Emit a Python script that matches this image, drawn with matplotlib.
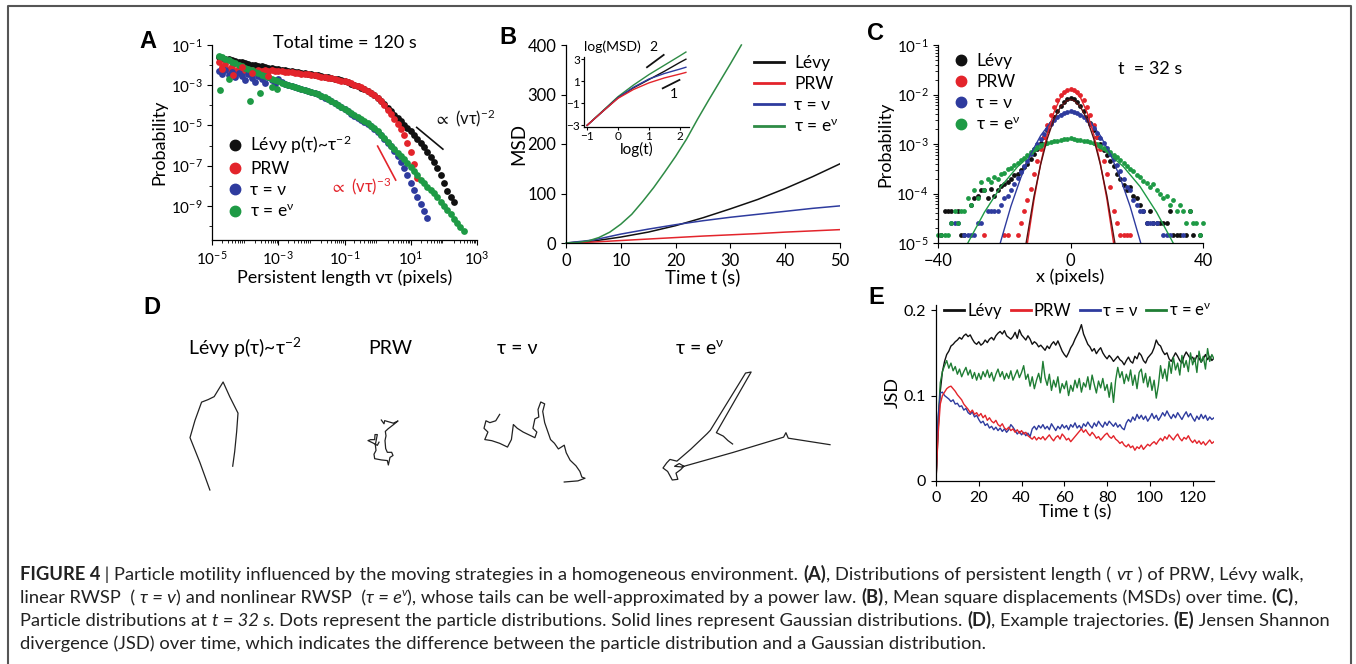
import numpy as np
import matplotlib
matplotlib.use("Agg")
import matplotlib.pyplot as plt
from matplotlib.lines import Line2D
from matplotlib.ticker import LogLocator, NullFormatter

W, H = 1356, 664

# === Panel A: persistent length distributions (log10 x, log10 y) ===
a_grid_black = np.round(np.arange(-4.8, 2.35, 0.1), 2)
a_black = [-1.60, -1.64, -1.68, -1.72, -1.76, -1.80, -1.83, -1.87, -1.91, -1.95,
           -1.98, -2.01, -2.04, -2.06, -2.09, -2.12, -2.14, -2.17, -2.20, -2.22,
           -2.25, -2.27, -2.30, -2.32, -2.35, -2.37, -2.40, -2.42, -2.45, -2.47,
           -2.50, -2.53, -2.57, -2.60, -2.64, -2.67, -2.71, -2.75, -2.80, -2.86,
           -2.92, -2.98, -3.05, -3.12, -3.21, -3.30, -3.40, -3.51, -3.62, -3.78,
           -3.95, -4.12, -4.29, -4.46, -4.63, -4.80, -4.97, -5.13, -5.30, -5.48,
           -5.68, -5.88, -6.08, -6.30, -6.55, -6.82, -7.12, -7.45, -7.85, -8.25,
           -8.55, -8.80]
a_grid_red = np.round(np.arange(-4.8, 1.25, 0.1), 2)
a_red = [-1.85, -2.10, -1.95, -2.20, -2.05, -2.30, -2.15, -2.35, -2.20, -2.40,
         -2.25, -2.35, -2.22, -2.30, -2.24, -2.28, -2.25, -2.27, -2.28, -2.30,
         -2.32, -2.34, -2.36, -2.38, -2.40, -2.42, -2.44, -2.46, -2.49, -2.51,
         -2.54, -2.57, -2.60, -2.63, -2.66, -2.70, -2.73, -2.77, -2.81, -2.86,
         -2.91, -2.97, -3.04, -3.11, -3.19, -3.27, -3.38, -3.50, -3.64, -3.80,
         -4.00, -4.21, -4.43, -4.67, -4.92, -5.19, -5.48, -5.85, -6.30, -6.90,
         -7.60]
a_grid_blue = np.round(np.arange(-4.8, 1.55, 0.1), 2)
a_blue = [-2.30, -2.45, -2.25, -2.50, -2.35, -2.60, -2.40, -2.55, -2.75, -2.45,
          -2.65, -2.85, -2.55, -2.70, -2.90, -2.60, -2.75, -2.95, -2.70, -2.85,
          -2.95, -3.00, -3.04, -3.08, -3.14, -3.19, -3.24, -3.29, -3.34, -3.40,
          -3.46, -3.54, -3.62, -3.71, -3.80, -3.90, -4.00, -4.10, -4.20, -4.30,
          -4.41, -4.51, -4.61, -4.71, -4.82, -4.92, -5.04, -5.17, -5.32, -5.49,
          -5.67, -5.85, -6.03, -6.25, -6.50, -6.80, -7.12, -7.48, -7.85, -8.22,
          -8.58, -8.92, -9.25, -9.60]
a_grid_green = np.round(np.arange(-4.8, 2.65, 0.1), 2)
a_green = [-1.53, -1.61, -1.68, -1.76, -1.84, -1.91, -1.98, -2.05, -2.12, -2.19,
           -2.26, -2.33, -2.40, -2.47, -2.54, -2.61, -2.68, -2.74, -2.80, -2.87,
           -2.92, -2.97, -3.02, -3.07, -3.12, -3.17, -3.22, -3.27, -3.32, -3.38,
           -3.44, -3.52, -3.60, -3.69, -3.78, -3.88, -3.98, -4.08, -4.18, -4.28,
           -4.39, -4.49, -4.59, -4.69, -4.80, -4.90, -5.02, -5.15, -5.30, -5.47,
           -5.65, -5.83, -6.01, -6.19, -6.36, -6.52, -6.68, -6.85, -7.05, -7.27,
           -7.49, -7.70, -7.87, -8.04, -8.21, -8.38, -8.58, -8.80, -9.01, -9.22,
           -9.43, -9.64, -9.85, -10.05, -10.25]
# stray low-x points
a_green_extra_x = [-4.76, -3.85, -3.55, -3.20, -4.50, -3.05]
a_green_extra_y = [-3.26, -3.77, -3.41, -3.10, -2.70, -3.20]
a_red_extra_x = [-4.70, -4.36, -3.80, -4.10, -3.30]
a_red_extra_y = [-2.20, -2.50, -2.40, -2.10, -2.55]
# slope guides (log10 coords)
guide_m2_x, guide_m2_y = [1.18, 1.97], [-5.10, -6.18]
guide_m3_x, guide_m3_y = [0.0, 0.545], [-6.03, -7.72]

# === Panel B: MSD over time ===
b_t_green = [0, 2, 4, 6, 8, 10, 12, 14, 16, 18, 20, 22, 24, 26, 28, 30, 32]
b_green = [0, 1, 4, 11, 22, 38, 58, 84, 112, 143, 175, 210, 250, 288, 325, 362, 400]
b_t = [0, 5, 10, 15, 20, 25, 30, 35, 40, 45, 50]
b_black = [0, 4, 12, 22, 35, 51, 69, 88, 110, 134, 160]
b_blue = [0, 6, 18, 28, 37, 45, 52, 58, 64, 70, 75]
b_red = [0, 2, 5, 8, 11, 14, 16.5, 19, 22, 24.5, 27]
# inset log-log
b_logt = [-1, -0.5, 0, 0.5, 1, 1.5, 2, 2.2]
b_in_green = [-3, -1.7, -0.4, 0.65, 1.6, 2.45, 3.3, 3.65]
b_in_black = [-3, -1.75, -0.5, 0.4, 1.15, 1.9, 2.7, 3.0]
b_in_blue = [-3, -1.75, -0.5, 0.45, 1.2, 1.7, 2.1, 2.27]
b_in_red = [-3, -1.75, -0.55, 0.25, 0.85, 1.3, 1.65, 1.8]
guide2_x, guide2_y = [0.94, 1.48], [2.27, 3.39]
guide1_x, guide1_y = [1.45, 1.99], [0.36, 1.12]

# === Panel C: particle distributions at t = 32 s (log10 probability) ===
c_x = np.arange(-40, 41)
nan = np.nan
c_black = [nan, -4.84, -4.36, -4.36, -4.36, nan, -4.36, -4.84, -4.84, nan,
           -4.24, -4.10, -4.06, -3.93, -3.93, -4.10, -3.90, -4.06, -3.93, -3.85,
           -3.80, -3.76, -3.70, -3.62, -3.60, -3.52, -3.46, -3.40, -3.30, -3.20,
           -3.10, -2.98, -2.86, -2.72, -2.58, -2.45, -2.34, -2.24, -2.16, -2.10,
           -2.07, -2.10, -2.16, -2.24, -2.34, -2.45, -2.58, -2.72, -2.86, -3.00,
           -3.12, -3.22, -3.34, -3.45, -3.60, -3.70, -3.82, -3.93, -3.86, -4.06,
           -4.10, -4.24, -4.36, -4.60, -4.36, -4.60, -4.60, -4.60, -4.60, -4.60,
           -4.36, -4.84, -4.84, -4.84, nan, -4.84, -4.36, -4.84, nan, -4.84, nan]
c_red = [nan, nan, nan, nan, nan, nan, nan, nan, nan, nan,
         nan, nan, nan, nan, -4.84, nan, nan, nan, nan, nan,
         -4.84, -4.84, nan, nan, -4.84, -4.60, -4.36, -4.13, -3.90, -3.60,
         -3.35, -3.10, -2.85, -2.62, -2.42, -2.26, -2.12, -2.02, -1.95, -1.90,
         -1.88, -1.90, -1.95, -2.02, -2.12, -2.26, -2.42, -2.62, -2.85, -3.10,
         -3.35, -3.60, -3.86, -4.36, -4.60, -4.84, -4.84, -4.84, -4.84, nan,
         nan, nan, nan, nan, nan, nan, nan, nan, nan, nan,
         nan, nan, nan, nan, nan, nan, nan, nan, nan, nan, nan]
c_blue = [nan, nan, nan, nan, -4.60, -4.60, -4.60, nan, -4.84, -4.84,
          -4.84, -4.84, -4.60, -4.60, nan, -4.36, -4.36, -4.36, -4.36, -4.24,
          -4.10, -4.06, -3.93, -3.80, -3.68, -3.56, -3.44, -3.34, -3.20, -3.10,
          -3.00, -2.90, -2.80, -2.70, -2.60, -2.52, -2.46, -2.41, -2.38, -2.35,
          -2.34, -2.36, -2.38, -2.42, -2.46, -2.52, -2.60, -2.68, -2.78, -2.88,
          -2.98, -3.08, -3.20, -3.30, -3.42, -3.55, -3.70, -3.86, -3.93, -4.13,
          -4.24, -4.36, -4.36, -4.60, -4.60, -4.60, -4.60, nan, -4.84, -4.84,
          -4.84, nan, nan, nan, -4.84, nan, nan, nan, nan, nan, nan]
c_green = [-4.84, -4.84, -4.84, -4.84, -4.60, -4.36, -4.60, -4.36, -4.36, -4.10,
           -4.24, -3.93, -4.10, -3.76, -3.93, -3.70, -3.76, -3.66, -3.70, -3.60,
           -3.58, -3.50, -3.48, -3.42, -3.38, -3.33, -3.28, -3.22, -3.16, -3.10,
           -3.06, -3.02, -2.99, -2.97, -2.95, -2.94, -2.93, -2.92, -2.90, -2.89,
           -2.88, -2.90, -2.91, -2.92, -2.93, -2.94, -2.96, -2.98, -3.00, -3.04,
           -3.08, -3.12, -3.17, -3.22, -3.27, -3.33, -3.38, -3.45, -3.50, -3.55,
           -3.62, -3.66, -3.74, -3.78, -3.86, -3.80, -3.93, -4.00, -4.10, -4.06,
           -4.24, -4.13, -4.36, -4.24, -4.36, -4.60, -4.36, -4.60, -4.60, -4.84, -4.60]
# Gaussian fit lines
c_fit_red_x = [-13, -11, -9, -7, -5, -3, -1, 0, 1, 3, 5, 7, 9, 11, 13]
c_fit_red = [-5.0, -4.12, -3.39, -2.80, -2.36, -2.06, -1.92, -1.90, -1.92, -2.06, -2.36, -2.80, -3.39, -4.12, -5.0]
c_fit_black_x = [-13.4, -11, -9, -7, -5, -3, -1, 0, 1, 3, 5, 7, 9, 11, 13.4]
c_fit_black = [-5.0, -4.05, -3.41, -2.89, -2.50, -2.25, -2.12, -2.10, -2.12, -2.25, -2.50, -2.89, -3.41, -4.05, -5.0]
c_fit_blue_x = [-21.2, -18, -15, -12, -9, -6, -3, 0, 3, 6, 9, 12, 15, 18, 21.2]
c_fit_blue = [-5.0, -4.26, -3.68, -3.20, -2.83, -2.56, -2.40, -2.35, -2.40, -2.56, -2.83, -3.20, -3.68, -4.26, -5.0]
c_fit_green_x = [-31, -26, -21, -16, -11, -6, 0, 6, 11, 16, 21, 26, 31]
c_fit_green = [-5.0, -4.38, -3.86, -3.46, -3.16, -2.98, -2.90, -2.98, -3.16, -3.46, -3.86, -4.38, -5.0]

# === Panel D: example trajectories (arbitrary picture units, y down) ===
d_levy = [(145, 365), (115, 290), (85, 222), (100, 175), (120, 125), (140, 118), (158, 110),
          (185, 70), (205, 110), (230, 155), (226, 205), (220, 260), (214, 300)]
d_prw = [(512, 150), (520, 162), (522, 152), (548, 160), (562, 153), (548, 165), (532, 178),
         (524, 186), (526, 200), (523, 215), (525, 240), (530, 252), (543, 252), (547, 262),
         (538, 268), (533, 292), (530, 278), (512, 276), (492, 272), (490, 258), (496, 246),
         (494, 228), (500, 196), (493, 196), (492, 212), (480, 212), (472, 215), (486, 222),
         (500, 230), (505, 220)]
d_lin = [(780, 148), (770, 165), (755, 170), (745, 165), (740, 185), (750, 195), (742, 215),
         (760, 218), (780, 225), (800, 235), (805, 225), (810, 215), (815, 175), (825, 185),
         (840, 195), (860, 205), (870, 210), (875, 195), (865, 185), (870, 160), (880, 155),
         (878, 135), (885, 115), (895, 120), (890, 140), (895, 170), (905, 200), (910, 215),
         (920, 225), (930, 240), (945, 230), (950, 250), (960, 270), (975, 285), (985, 300),
         (990, 315), (998, 318), (980, 325), (945, 328)]
d_exp = [(1290, 255), (1280, 245), (1270, 232), (1255, 222), (1330, 45), (1318, 48),
         (1242, 215), (1235, 225), (1200, 270), (1170, 305), (1155, 300), (1148, 310),
         (1140, 325), (1150, 335), (1160, 360), (1172, 358), (1168, 340), (1178, 330),
         (1185, 320), (1175, 312), (1165, 320), (1180, 322), (1290, 280), (1400, 235),
         (1405, 222), (1410, 238), (1500, 257)]

# === Panel E: JSD over time ===
e_t = np.arange(0, 131)
e_black = [0.000, 0.060, 0.105, 0.128, 0.140, 0.148, 0.152, 0.158, 0.160, 0.163,
           0.165, 0.168, 0.166, 0.170, 0.172, 0.169, 0.171, 0.166, 0.162, 0.160,
           0.163, 0.159, 0.161, 0.165, 0.162, 0.166, 0.168, 0.165, 0.170, 0.173,
           0.175, 0.172, 0.176, 0.170, 0.168, 0.166, 0.169, 0.174, 0.167, 0.177,
           0.171, 0.168, 0.165, 0.170, 0.166, 0.160, 0.163, 0.161, 0.157, 0.159,
           0.156, 0.153, 0.158, 0.155, 0.160, 0.163, 0.159, 0.164, 0.158, 0.152,
           0.148, 0.145, 0.150, 0.156, 0.160, 0.166, 0.171, 0.176, 0.183, 0.172,
           0.166, 0.160, 0.157, 0.152, 0.155, 0.149, 0.153, 0.156, 0.150, 0.146,
           0.143, 0.147, 0.144, 0.140, 0.143, 0.146, 0.142, 0.140, 0.136, 0.141,
           0.145, 0.140, 0.138, 0.146, 0.143, 0.150, 0.147, 0.141, 0.138, 0.144,
           0.147, 0.150, 0.156, 0.165, 0.160, 0.158, 0.152, 0.148, 0.150, 0.143,
           0.140, 0.145, 0.150, 0.146, 0.141, 0.138, 0.146, 0.151, 0.147, 0.143,
           0.145, 0.140, 0.147, 0.144, 0.139, 0.143, 0.148, 0.142, 0.146, 0.141,
           0.144]
e_red = [0.000, 0.055, 0.090, 0.100, 0.104, 0.108, 0.110, 0.111, 0.108, 0.105,
         0.101, 0.098, 0.095, 0.090, 0.087, 0.084, 0.080, 0.083, 0.078, 0.080,
         0.076, 0.079, 0.074, 0.077, 0.071, 0.074, 0.070, 0.068, 0.071, 0.066,
         0.064, 0.067, 0.062, 0.060, 0.063, 0.059, 0.061, 0.057, 0.060, 0.056,
         0.059, 0.055, 0.057, 0.053, 0.051, 0.049, 0.052, 0.048, 0.051, 0.049,
         0.052, 0.048, 0.051, 0.054, 0.050, 0.047, 0.051, 0.053, 0.049, 0.055,
         0.052, 0.048, 0.050, 0.046, 0.049, 0.052, 0.055, 0.058, 0.061, 0.057,
         0.060, 0.056, 0.053, 0.057, 0.054, 0.050, 0.052, 0.048, 0.051, 0.054,
         0.056, 0.052, 0.050, 0.053, 0.049, 0.047, 0.044, 0.046, 0.042, 0.040,
         0.043, 0.039, 0.041, 0.036, 0.040, 0.038, 0.042, 0.037, 0.040, 0.043,
         0.041, 0.044, 0.046, 0.043, 0.047, 0.050, 0.047, 0.052, 0.049, 0.054,
         0.051, 0.048, 0.052, 0.055, 0.050, 0.047, 0.051, 0.049, 0.053, 0.048,
         0.045, 0.048, 0.044, 0.047, 0.043, 0.046, 0.042, 0.045, 0.048, 0.044,
         0.046]
e_blue = [0.000, 0.075, 0.103, 0.104, 0.100, 0.098, 0.096, 0.093, 0.095, 0.090,
          0.091, 0.087, 0.088, 0.083, 0.085, 0.080, 0.078, 0.081, 0.075, 0.077,
          0.072, 0.068, 0.070, 0.065, 0.067, 0.062, 0.064, 0.060, 0.063, 0.059,
          0.062, 0.058, 0.061, 0.057, 0.060, 0.066, 0.063, 0.059, 0.055, 0.058,
          0.054, 0.057, 0.053, 0.056, 0.052, 0.061, 0.064, 0.060, 0.065, 0.062,
          0.066, 0.061, 0.064, 0.060, 0.067, 0.063, 0.059, 0.064, 0.061, 0.066,
          0.062, 0.065, 0.060, 0.066, 0.063, 0.068, 0.062, 0.065, 0.061, 0.067,
          0.064, 0.069, 0.065, 0.062, 0.068, 0.064, 0.070, 0.066, 0.063, 0.069,
          0.065, 0.070, 0.067, 0.064, 0.068, 0.063, 0.066, 0.062, 0.060, 0.068,
          0.072, 0.069, 0.075, 0.071, 0.078, 0.073, 0.077, 0.072, 0.076, 0.070,
          0.074, 0.079, 0.073, 0.077, 0.071, 0.075, 0.080, 0.076, 0.082, 0.077,
          0.073, 0.078, 0.074, 0.080, 0.076, 0.072, 0.077, 0.081, 0.075, 0.079,
          0.074, 0.070, 0.076, 0.072, 0.078, 0.073, 0.077, 0.071, 0.075, 0.072,
          0.074]
e_green = [0.000, 0.070, 0.115, 0.128, 0.135, 0.141, 0.132, 0.138, 0.129, 0.134,
           0.125, 0.131, 0.122, 0.128, 0.133, 0.124, 0.130, 0.120, 0.127, 0.118,
           0.126, 0.119, 0.128, 0.122, 0.130, 0.121, 0.127, 0.117, 0.125, 0.131,
           0.122, 0.128, 0.119, 0.126, 0.120, 0.129, 0.118, 0.124, 0.130, 0.121,
           0.127, 0.135, 0.119, 0.125, 0.111, 0.122, 0.108, 0.118, 0.126, 0.115,
           0.140, 0.121, 0.112, 0.125, 0.106, 0.118, 0.110, 0.122, 0.103, 0.114,
           0.108, 0.117, 0.100, 0.112, 0.105, 0.118, 0.109, 0.120, 0.104, 0.115,
           0.110, 0.122, 0.107, 0.124, 0.113, 0.103, 0.117, 0.109, 0.120, 0.106,
           0.113, 0.098, 0.115, 0.092, 0.118, 0.133, 0.121, 0.128, 0.114, 0.125,
           0.117, 0.130, 0.112, 0.124, 0.108, 0.127, 0.131, 0.115, 0.126, 0.110,
           0.122, 0.106, 0.118, 0.097, 0.112, 0.135, 0.120, 0.131, 0.117, 0.140,
           0.126, 0.145, 0.130, 0.138, 0.124, 0.147, 0.133, 0.141, 0.128, 0.150,
           0.136, 0.144, 0.127, 0.152, 0.139, 0.146, 0.131, 0.155, 0.140, 0.148,
           0.143]

labels = ["Lévy", "PRW", "τ = ν", "τ = e$^{ν}$"]
BLACK, RED, BLUE, GREEN = "#111111", "#e3242b", "#2e3b9e", "#1e9a45"
GREEN_B, GREEN_E = "#2e8b45", "#1f7d34"

plt.rcParams["font.family"] = ["Lato", "DejaVu Sans"]
plt.rcParams["mathtext.fontset"] = "dejavusans"
plt.rcParams["mathtext.default"] = "regular"
plt.rcParams["axes.linewidth"] = 0.9
plt.rcParams["xtick.labelsize"] = 10.5
plt.rcParams["ytick.labelsize"] = 10.5


def rect(l, t, r, b):
    return [l / W, 1 - b / H, (r - l) / W, (b - t) / H]


def clean(ax):
    ax.spines["top"].set_visible(False)
    ax.spines["right"].set_visible(False)


fig = plt.figure(figsize=(W / 100, H / 100), dpi=100)

# === A ===
ax = fig.add_axes(rect(212, 45, 477, 240))
clean(ax)
ax.set_xscale("log")
ax.set_yscale("log")
pts = [(a_grid_black, a_black, BLACK), (a_grid_red, a_red, RED),
       (a_grid_blue, a_blue, BLUE), (a_grid_green, a_green, GREEN),
       (a_green_extra_x, a_green_extra_y, GREEN), (a_red_extra_x, a_red_extra_y, RED)]
for lx, ly, c in pts:
    ax.scatter(10 ** np.asarray(lx, float), 10 ** np.asarray(ly, float), s=24, color=c,
               linewidths=0, clip_on=False)
ax.plot(10 ** np.array(guide_m2_x), 10 ** np.array(guide_m2_y), color=BLACK, lw=1.2)
ax.plot(10 ** np.array(guide_m3_x), 10 ** np.array(guide_m3_y), color=RED, lw=1.2)
ax.text(10 ** 1.67, 10 ** -4.64, r"$\propto$ (vτ)$^{-2}$", fontsize=12, va="center",
        color=BLACK, clip_on=False)
ax.text(10 ** -1.48, 10 ** -8.03, r"$\propto$ (vτ)$^{-3}$", fontsize=12, va="center", color=RED)
ax.set_xlim(1e-5, 1e3)
ax.set_ylim(10 ** -10.7, 1e-1)
ax.set_xticks([1e-5, 1e-3, 1e-1, 1e1, 1e3])
ax.set_yticks([1e-1, 1e-3, 1e-5, 1e-7, 1e-9])
ax.xaxis.set_minor_locator(LogLocator(base=10, subs="auto", numticks=30))
ax.yaxis.set_minor_locator(LogLocator(base=10, subs=(1.0,), numticks=30))
ax.xaxis.set_minor_formatter(NullFormatter())
ax.yaxis.set_minor_formatter(NullFormatter())
ax.tick_params(which="minor", length=2)
ax.tick_params(labelsize=11)
ax.set_xlabel("Persistent length vτ (pixels)", fontsize=13, labelpad=1)
ax.set_ylabel("Probability", fontsize=13, labelpad=2)
ax.text(0.5, 1.01, "Total time = 120 s", transform=ax.transAxes, ha="center", va="center",
        fontsize=13)
handles = [Line2D([], [], marker="o", ls="", ms=7.5, color=c) for c in (BLACK, RED, BLUE, GREEN)]
ax.legend(handles, ["Lévy p(τ)~τ$^{-2}$"] + labels[1:], loc="upper left",
          bbox_to_anchor=(0.0, 0.6), frameon=False, fontsize=12.5, handletextpad=0.2,
          labelspacing=0.3, borderaxespad=0.2, handlelength=1.4)

# === B ===
ax = fig.add_axes(rect(566, 45, 840, 243))
clean(ax)
ax.plot(b_t, b_black, color=BLACK, lw=1.1)
ax.plot(b_t, b_red, color=RED, lw=1.1)
ax.plot(b_t, b_blue, color=BLUE, lw=1.1)
ax.plot(b_t_green, b_green, color=GREEN_B, lw=1.1, clip_on=False)
ax.set_xlim(0, 50)
ax.set_ylim(0, 400)
ax.set_xticks(range(0, 51, 10))
ax.set_yticks(range(0, 401, 100))
ax.tick_params(labelsize=12)
ax.set_xlabel("Time t (s)", fontsize=13.5, labelpad=0)
ax.set_ylabel("MSD", fontsize=13.5, labelpad=0)
handles = [Line2D([], [], color=c, lw=2) for c in (BLACK, RED, BLUE, GREEN_B)]
ax.legend(handles, labels, loc="upper left", bbox_to_anchor=(0.63, 1.03), frameon=False,
          fontsize=12.5, handlelength=1.7, handletextpad=0.6, labelspacing=0.3)

ins = fig.add_axes(rect(584, 57, 689, 127))
clean(ins)
ins.patch.set_alpha(0)
for yv, c in ((b_in_green, GREEN_B), (b_in_black, BLACK), (b_in_blue, BLUE), (b_in_red, RED)):
    ins.plot(b_logt, yv, color=c, lw=1.0, clip_on=False)
ins.plot(guide2_x, guide2_y, color=BLACK, lw=1.3, clip_on=False)
ins.plot(guide1_x, guide1_y, color=BLACK, lw=1.3, clip_on=False)
ins.text(1.15, 4.1, "2", fontsize=10, ha="center", va="center")
ins.text(1.8, -0.2, "1", fontsize=10, ha="center", va="center")
ins.set_xlim(-1.1, 2.3)
ins.set_ylim(-3.15, 3.2)
ins.set_xticks([-1, 0, 1, 2])
ins.set_yticks([-3, -1, 1, 3])
ins.tick_params(labelsize=8.5, length=2, pad=1)
ins.set_xlabel("log(t)", fontsize=11, labelpad=0)
ins.text(-1.1, 3.55, "log(MSD)", fontsize=10, ha="left", va="bottom")

# === C ===
ax = fig.add_axes(rect(938, 45, 1203, 243))
clean(ax)
ax.set_yscale("log")
for yv, c in ((c_black, BLACK), (c_red, RED), (c_blue, BLUE), (c_green, GREEN)):
    ax.scatter(c_x, 10 ** np.asarray(yv, float), s=12, color=c, linewidths=0, clip_on=False)
for xv, yv, c in ((c_fit_green_x, c_fit_green, GREEN), (c_fit_blue_x, c_fit_blue, BLUE),
                  (c_fit_red_x, c_fit_red, RED), (c_fit_black_x, c_fit_black, "#5a1010")):
    ax.plot(xv, 10 ** np.asarray(yv, float), color=c, lw=1.0)
ax.set_xlim(-40, 40)
ax.set_ylim(1e-5, 1e-1)
ax.set_xticks([-40, 0, 40])
ax.set_yticks([1e-1, 1e-2, 1e-3, 1e-4, 1e-5])
ax.yaxis.set_minor_locator(LogLocator(base=10, subs="auto", numticks=30))
ax.yaxis.set_minor_formatter(NullFormatter())
ax.tick_params(which="minor", length=2)
ax.tick_params(axis="x", labelsize=12)
ax.tick_params(axis="y", labelsize=11)
ax.set_xlabel("x (pixels)", fontsize=13, labelpad=0)
ax.set_ylabel("Probability", fontsize=13, labelpad=2)
ax.text(0.68, 0.88, "t  = 32 s", transform=ax.transAxes, fontsize=13, va="center")
handles = [Line2D([], [], marker="o", ls="", ms=7.5, color=c) for c in (BLACK, RED, BLUE, GREEN)]
ax.legend(handles, labels, loc="upper left", bbox_to_anchor=(0.0, 1.01), frameon=False,
          fontsize=12.5, handletextpad=0.2, labelspacing=0.28, borderaxespad=0.2,
          handlelength=1.4)

# === D: one small frame per trajectory, placed where it sits in the figure ===
d_boxes = [(190, 382, 238, 490), (368, 420, 398, 465), (484, 402, 585, 482), (663, 372, 830, 480)]
for path, box in zip((d_levy, d_prw, d_lin, d_exp), d_boxes):
    ax = fig.add_axes(rect(*box))
    ax.axis("off")
    xy = np.array(path, float)
    ax.plot(xy[:, 0], xy[:, 1], color="#222222", lw=0.9, clip_on=False)
    ax.set_xlim(xy[:, 0].min(), xy[:, 0].max())
    ax.set_ylim(xy[:, 1].max(), xy[:, 1].min())
for x, s in ((245, "Lévy p(τ)~τ$^{-2}$"), (390, "PRW"), (517, "τ = ν"), (700, "τ = e$^{ν}$")):
    fig.text(x / W, 1 - 348 / H, s, fontsize=14, ha="center", va="center")

# === E ===
ax = fig.add_axes(rect(936, 305, 1214, 481))
clean(ax)
ax.plot(e_t, e_black, color=BLACK, lw=1.0)
ax.plot(e_t, e_green, color=GREEN_E, lw=1.0)
ax.plot(e_t, e_blue, color=BLUE, lw=1.0)
ax.plot(e_t, e_red, color=RED, lw=1.0)
ax.set_xlim(0, 130)
ax.set_ylim(0, 0.206)
ax.set_xticks(range(0, 121, 20))
ax.set_yticks([0, 0.1, 0.2])
ax.set_yticklabels(["0", "0.1", "0.2"])
ax.tick_params(labelsize=11.5)
ax.set_xlabel("Time t (s)", fontsize=13, labelpad=0)
ax.set_ylabel("JSD", fontsize=13, labelpad=2)
handles = [Line2D([], [], color=c, lw=2) for c in (BLACK, RED, BLUE, GREEN_E)]
ax.legend(handles, labels, loc="center left", bbox_to_anchor=(0.0, 0.97), ncol=4,
          frameon=False, fontsize=12, handlelength=1.2, handletextpad=0.2,
          columnspacing=0.5, borderaxespad=0.1)

# === Panel letters ===
for ch, x, y in (("A", 148, 42), ("B", 508, 38), ("C", 876, 34), ("D", 152, 307), ("E", 876, 298)):
    fig.text(x / W, 1 - y / H, ch, fontsize=17, fontweight="bold", ha="center", va="center",
             family=["Liberation Sans", "DejaVu Sans"])

# === Frame ===
fig.add_artist(Line2D([8 / W, 8 / W, 1351 / W, 1351 / W], [0, 1 - 6 / H, 1 - 6 / H, 0],
                      transform=fig.transFigure, color="#555555", lw=1.5))

# === Caption ===
cap_font = ["Lato", "DejaVu Sans"]
caption = [
    [("FIGURE 4", "b"), (" | Particle motility influenced by the moving strategies in a homogeneous environment. ", "n"),
     ("(A)", "b"), (", Distributions of persistent length ( ", "n"), ("vτ", "i"), (" ) of PRW, Lévy walk,", "n")],
    [("linear RWSP  ( ", "n"), ("τ = v", "i"), (") and nonlinear RWSP  (", "n"), ("τ = e", "i"), ("v", "s"),
     ("), whose tails can be well-approximated by a power law. ", "n"), ("(B)", "b"),
     (", Mean square displacements (MSDs) over time. ", "n"), ("(C)", "b"), (",", "n")],
    [("Particle distributions at ", "n"), ("t = 32 s", "i"),
     (". Dots represent the particle distributions. Solid lines represent Gaussian distributions. ", "n"),
     ("(D)", "b"), (", Example trajectories. ", "n"), ("(E)", "b"), (" Jensen Shannon", "n")],
    [("divergence (JSD) over time, which indicates the difference between the particle distribution and a Gaussian distribution.", "n")],
]
cap_y = [580, 603, 626, 649]


def draw_caption(size):
    renderer = fig.canvas.get_renderer()
    made, widths = [], []
    for parts, y in zip(caption, cap_y):
        x = 20.0
        for txt, kind in parts:
            kw = dict(fontsize=size, family=cap_font, color="#222222", va="baseline")
            yy = y
            if kind == "b":
                kw["fontweight"] = "bold"
            elif kind == "i":
                kw["fontstyle"] = "italic"
            elif kind == "s":
                kw["fontstyle"] = "italic"
                kw["fontsize"] = size * 0.65
                yy = y - size * 0.55
            t = fig.text(x / W, 1 - yy / H, txt, **kw)
            x += t.get_window_extent(renderer).width
            made.append(t)
        widths.append(x - 20)
    return made, widths


made, widths = draw_caption(12)
scale = 1300.0 / max(widths)
for t in made:
    t.remove()
draw_caption(12 * scale)

fig.savefig("out.png", dpi=100)
